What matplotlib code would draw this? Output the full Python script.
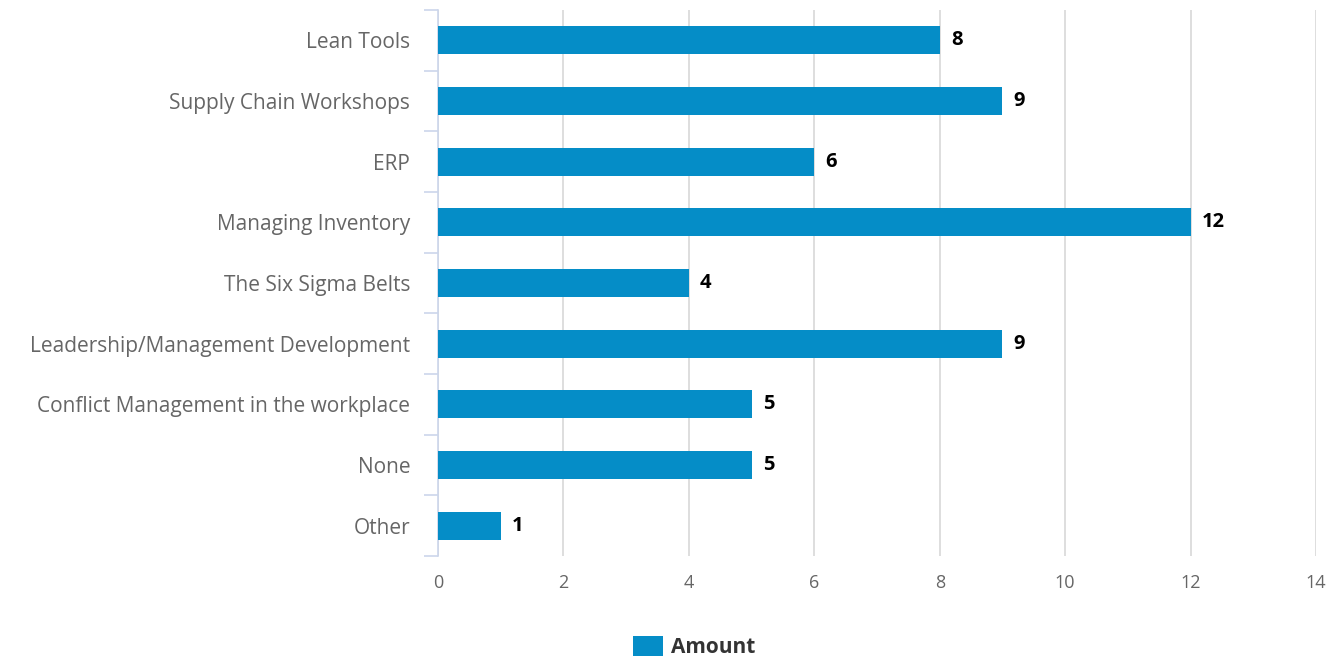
import matplotlib
matplotlib.use("Agg")
import matplotlib.pyplot as plt
import numpy as np
from matplotlib.patches import Patch

categories = ["Lean Tools", "Supply Chain Workshops", "ERP", "Managing Inventory",
              "The Six Sigma Belts", "Leadership/Management Development",
              "Conflict Management in the workplace", "None", "Other"]
amounts = [8, 9, 6, 12, 4, 9, 5, 5, 1]
x_ticks = [0, 2, 4, 6, 8, 10, 12, 14]
series_name = "Amount"

plt.rcParams['font.family'] = ['Open Sans', 'DejaVu Sans']

fig = plt.figure(figsize=(13.37, 6.62), dpi=100)
ax = fig.add_axes([438/1337, 1-556/662, (1316-438)/1337, (556-10)/662])

n = len(categories)
y = np.arange(n)
bar_color = "#058DC7"
ax.barh(y, amounts, height=0.46, color=bar_color, zorder=3)
ax.set_ylim(n - 0.5, -0.5)
ax.set_xlim(0, 14)

for yi, v in zip(y, amounts):
    ax.annotate(str(v), (v, yi), xytext=(8, 0), textcoords="offset points",
                ha="left", va="center", fontsize=14.5, fontweight="bold", color="#000000")

ax.set_xticks(x_ticks)
ax.set_xticklabels([str(t) for t in x_ticks], fontsize=13, color="#666666")
ax.tick_params(axis="x", length=0, pad=13)

ax.set_yticks(y)
ax.set_yticklabels(categories, fontsize=15, color="#666666")
ax.tick_params(axis="y", which="major", length=0, pad=20)
ax.set_yticks(np.arange(-0.5, n, 1), minor=True)
ax.tick_params(axis="y", which="minor", length=10, color="#ccd6eb", width=1.2)

ax.grid(axis="x", color="#d8d8d8", linewidth=1.2, zorder=0)
for s in ["top", "right", "bottom"]:
    ax.spines[s].set_visible(False)
ax.spines["left"].set_color("#ccd6eb")
ax.spines["left"].set_linewidth(1.2)

handles = [Patch(facecolor=bar_color, edgecolor="none", label=series_name)]
leg = fig.legend(handles=handles, loc="center", bbox_to_anchor=(694/1337, 1-647/662),
                 frameon=False, prop={"weight": "bold", "size": 15},
                 handlelength=1.45, handleheight=1.1, handletextpad=0.35)
for t in leg.get_texts():
    t.set_color("#333333")

fig.savefig("out.png", dpi=100)
